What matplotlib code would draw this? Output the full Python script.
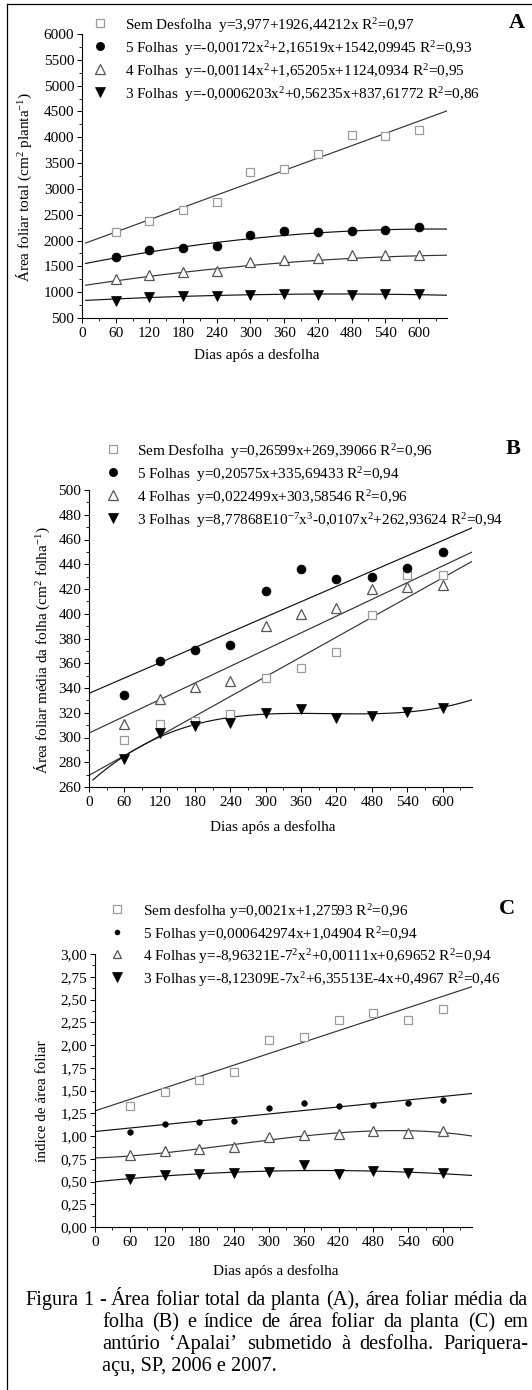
import numpy as np
import matplotlib
matplotlib.use("Agg")
import matplotlib.pyplot as plt
from matplotlib.lines import Line2D
from matplotlib.ticker import MultipleLocator, FuncFormatter

plt.rcParams["font.family"] = ["Liberation Serif", "DejaVu Serif"]
plt.rcParams["mathtext.fontset"] = "custom"
plt.rcParams["mathtext.rm"] = "Liberation Serif"
plt.rcParams["mathtext.it"] = "Liberation Serif:italic"
plt.rcParams["mathtext.bf"] = "Liberation Serif:bold"

# ---- data ----
dias = [60, 120, 180, 240, 300, 360, 420, 480, 540, 600]
series = ["Sem Desfolha", "5 Folhas", "4 Folhas", "3 Folhas"]

# A - area foliar total (cm2 planta-1)
a_sem = [2158, 2385, 2600, 2745, 3331, 3377, 3670, 4048, 4016, 4134]
a_f5 = [1680, 1817, 1864, 1895, 2105, 2189, 2157, 2177, 2203, 2255]
a_f4 = [1263, 1341, 1394, 1406, 1590, 1621, 1655, 1713, 1713, 1727]
a_f3 = [833, 905, 917, 930, 950, 963, 950, 950, 963, 963]
# fitted polynomials (highest power first)
a_fit = [[3.977, 1926.44212],
         [-0.00172, 2.16519, 1542.09945],
         [-0.00114, 1.65205, 1124.0934],
         [-0.0006203, 0.56235, 837.61772]]
a_labels = ["Sem Desfolha  y=3,977+1926,44212x R$^2$=0,97",
            "5 Folhas  y=-0,00172x$^2$+2,16519x+1542,09945 R$^2$=0,93",
            "4 Folhas  y=-0,00114x$^2$+1,65205x+1124,0934 R$^2$=0,95",
            "3 Folhas  y=-0,0006203x$^2$+0,56235x+837,61772 R$^2$=0,86"]

# B - area foliar media da folha (cm2 folha-1)
b_sem = [298, 311, 313, 319, 348, 356, 369, 399, 431, 431]
b_f5 = [334, 362, 371, 375, 418, 436, 428, 430, 437, 450]
b_f4 = [311, 331, 341, 346, 390, 400, 405, 420, 422, 423]
b_f3 = [283, 304, 309, 312, 320, 323, 316, 317, 321, 324]
b_fit = [[0.26599, 269.39066],
         [0.20575, 335.69433],
         [0.22499, 303.58546],
         [8.77868e-7, -0.00107, 0.4285, 262.93624]]
b_labels = ["Sem Desfolha  y=0,26599x+269,39066 R$^2$=0,96",
            "5 Folhas  y=0,20575x+335,69433 R$^2$=0,94",
            "4 Folhas  y=0,022499x+303,58546 R$^2$=0,96",
            "3 Folhas  y=8,77868E10$^{-7}$x$^3$-0,0107x$^2$+262,93624 R$^2$=0,94"]

# C - indice de area foliar
c_sem = [1.33, 1.48, 1.61, 1.70, 2.05, 2.09, 2.27, 2.35, 2.27, 2.40]
c_f5 = [1.04, 1.13, 1.15, 1.17, 1.31, 1.36, 1.33, 1.34, 1.36, 1.40]
c_f4 = [0.79, 0.84, 0.86, 0.88, 0.99, 1.01, 1.02, 1.05, 1.03, 1.05]
c_f3 = [0.53, 0.57, 0.58, 0.59, 0.60, 0.68, 0.58, 0.62, 0.59, 0.59]
c_fit = [[0.0021, 1.27593],
         [0.000642974, 1.04904],
         [-3.5364e-9, 2.542e-6, 2.126e-4, 0.759],
         [-8.12309e-7, 6.35513e-4, 0.4967]]
c_labels = ["Sem desfolha y=0,0021x+1,27593 R$^2$=0,96",
            "5 Folhas y=0,000642974x+1,04904 R$^2$=0,94",
            "4 Folhas y=-8,96321E-7$^2$x$^2$+0,00111x+0,69652 R$^2$=0,94",
            "3 Folhas y=-8,12309E-7x$^2$+6,35513E-4x+0,4967 R$^2$=0,46"]

caption = ["Figura 1 - Área foliar total da planta (A), área foliar média da",
           "folha (B) e índice de área foliar da planta (C) em",
           "antúrio ‘Apalai’ submetido à desfolha. Pariquera-",
           "açu, SP, 2006 e 2007."]

W, H = 532, 1390
fig = plt.figure(figsize=(W / 100, H / 100), dpi=100)


def box(left, top, right, bottom):
    return [left / W, 1 - bottom / H, (right - left) / W, (bottom - top) / H]


def fx(px):
    return px / W


def fy(py):
    return 1 - py / H


styles = [dict(marker="s", mfc="white", mec="#9a9a9a", mew=0.9),
          dict(marker="o", mfc="black", mec="black", mew=0.5),
          dict(marker="^", mfc="white", mec="#555555", mew=0.9),
          dict(marker="v", mfc="black", mec="black", mew=0.5)]
line_cols = ["#333333", "#111111", "#333333", "#111111"]

FS = 11


def panel(pos, values, fits, labels, ylim, ymajor, yminor, ylabel, ylab_xy,
          fmt, msizes, fit_start, leg_rows, leg_mx, leg_tx, letter, letter_xy,
          xlab_y):
    ax = fig.add_axes(pos)
    xs = np.linspace(0, 650, 300)
    for i, (vals, p) in enumerate(zip(values, fits)):
        xf = xs[xs >= fit_start[i]]
        ax.plot(xf, np.polyval(p, xf), color=line_cols[i], lw=0.85, zorder=2)
        ax.plot(dias, vals, ls="none", ms=msizes[i], zorder=3, clip_on=False,
                **styles[i])
    ax.set_xlim(0, 650)
    ax.set_ylim(*ylim)
    ax.spines["top"].set_visible(False)
    ax.spines["right"].set_visible(False)
    for s in ("left", "bottom"):
        ax.spines[s].set_linewidth(0.8)
    ax.xaxis.set_major_locator(MultipleLocator(60))
    ax.xaxis.set_minor_locator(MultipleLocator(30))
    ax.yaxis.set_major_locator(MultipleLocator(ymajor))
    ax.yaxis.set_minor_locator(MultipleLocator(yminor))
    ax.yaxis.set_major_formatter(FuncFormatter(fmt))
    ax.tick_params(which="major", length=3.5, width=0.7, labelsize=FS, pad=2)
    ax.tick_params(axis="x", which="major", pad=3)
    ax.tick_params(which="minor", length=2, width=0.6)
    ax.set_xlabel("Dias após a desfolha", fontsize=FS)
    ax.xaxis.set_label_coords(0.48, xlab_y)
    ax.xaxis.label.set_va("center")
    ax.set_ylabel(ylabel, fontsize=FS)
    ax.yaxis.set_label_coords(*ylab_xy)
    ax.yaxis.label.set_va("center")
    for i, (lab, ry) in enumerate(zip(labels, leg_rows)):
        fig.add_artist(Line2D([fx(leg_mx)], [fy(ry)], ls="none",
                              ms=msizes[i] - 0.5, **styles[i]))
        fig.text(fx(leg_tx), fy(ry), lab, fontsize=FS, va="center_baseline",
                 ha="left")
    fig.text(fx(letter_xy[0]), fy(letter_xy[1]), letter, fontsize=16,
             fontweight="bold", ha="center", va="center")
    return ax


intfmt = lambda v, p: f"{v:.0f}"
commafmt = lambda v, p: f"{v:.2f}".replace(".", ",")

panel(box(82, 34, 447, 318), [a_sem, a_f5, a_f4, a_f3], a_fit, a_labels,
      (500, 6000), 500, 250, "Área foliar total (cm$^2$ planta$^{-1}$)",
      (-0.158, 0.46), intfmt, [6.2, 6.4, 7.2, 7.2], [5, 5, 5, 5],
      [23, 46, 69, 92], 100, 125, "A", (517, 23), -0.13)

panel(box(89, 490, 472, 787), [b_sem, b_f5, b_f4, b_f3], b_fit, b_labels,
      (260, 500), 20, 10, "Área foliar média da folha (cm$^2$ folha$^{-1}$)",
      (-0.122, 0.46), intfmt, [6.2, 6.4, 7.2, 7.2], [0, 0, 0, 6],
      [449, 472, 495, 518], 113, 137, "B", (513, 449), -0.135)

panel(box(95, 954, 472, 1227), [c_sem, c_f5, c_f4, c_f3], c_fit, c_labels,
      (0, 3), 0.25, 0.125, "índice de área foliar",
      (-0.138, 0.46), commafmt, [5.6, 4, 6.8, 7.2], [0, 0, 0, 0],
      [909, 932, 954, 977], 117, 143, "C", (507, 909), -0.16)

# frame lines around the figure (top and left)
fig.add_artist(Line2D([fx(7), 1], [fy(4), fy(4)], color="black", lw=0.9))
fig.add_artist(Line2D([fx(7), fx(7)], [fy(4), 0], color="black", lw=0.9))

# caption, justified like the original; size chosen so line 1 fills the width
renderer = fig.canvas.get_renderer()
probe = fig.text(0, 0, caption[0], fontsize=10)
CFS = 10 * (526 - 25) / probe.get_window_extent(renderer).width
probe.remove()
cap_y = [1298, 1320, 1342, 1364]
cap_x0 = [25, 102, 102, 102]
for k, (line, y, x0) in enumerate(zip(caption, cap_y, cap_x0)):
    if k == 3:
        fig.text(fx(x0), fy(y), line, fontsize=CFS, va="center_baseline")
        continue
    words = line.split(" ")
    ts = [fig.text(0, fy(y), w, fontsize=CFS, va="center_baseline")
          for w in words]
    widths = [t.get_window_extent(renderer).width for t in ts]
    gap = (528 - x0 - sum(widths)) / (len(words) - 1)
    x = x0
    for t, w in zip(ts, widths):
        t.set_x(fx(x))
        x += w + gap

fig.savefig("out.png", dpi=100)
